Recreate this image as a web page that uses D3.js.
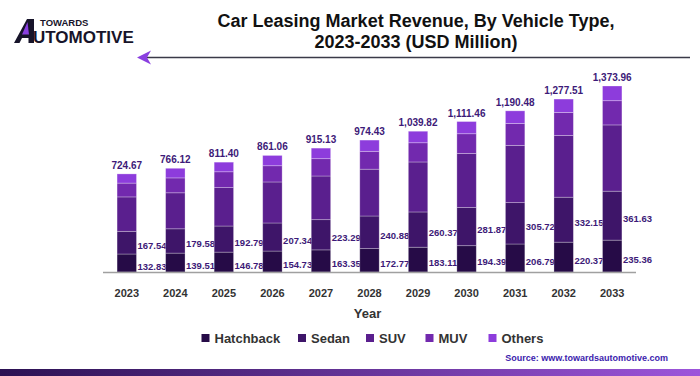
<!DOCTYPE html>
<html>
<head>
<meta charset="utf-8">
<script src="https://cdn.jsdelivr.net/npm/d3@7"></script>
<style>
  html, body { margin: 0; padding: 0; background: #fff; }
  svg { display: block; font-family: "Liberation Sans", Arial, sans-serif; }
</style>
</head>
<body>
<svg id="chart" width="700" height="376"></svg>
<script>
// chart data
var years = ["2023","2024","2025","2026","2027","2028","2029","2030","2031","2032","2033"];
var hatchback = [132.83,139.51,146.78,154.73,163.35,172.77,183.11,194.39,206.79,220.37,235.36];
var sedan = [167.54,179.58,192.79,207.34,223.29,240.88,260.37,281.87,305.72,332.15,361.63];
var suv = [254.3,266.03,283.83,302.99,322.49,345.78,369.34,399.2,422.97,455.99,489.47];
var muv = [102,110,117,120,128,132,142,146,162,170,179];
var others = [68,71,71,76,78,83,85,90,93,99,108.5];
var totals = [724.67,766.12,811.40,861.06,915.13,974.43,1039.82,1111.46,1190.48,1277.51,1373.96];
var seriesNames = ["Hatchback","Sedan","SUV","MUV","Others"];
var seriesColors = ["#260b47","#3e1569","#5a1f8e","#7229ae","#8d3cdc"];

var svg = d3.select('#chart');
var defs = svg.append('defs');

var X0 = 103, X1 = 636, BASE = 272;
var x = d3.scaleBand().domain(years).range([X0, X1]).paddingInner(0.6).paddingOuter(0.29);
var y = d3.scaleLinear().domain([0, 1400]).range([BASE, BASE - 1400*0.13537]);
var color = d3.scaleOrdinal().domain(seriesNames).range(seriesColors);

var fmt = d3.format(",.2f");

// logo
var logo = svg.append('g');
logo.append('path')
    .attr('d','M14,43 L27,19 L34,19 L34,43 L28.5,43 L28.5,38 L22,38 L19.5,43 Z')
    .attr('fill','#17142a');
logo.append('path')
    .attr('d','M27.5,22 L22,34.5 L29,34.5 Z')
    .attr('fill','#8a3fe0');
logo.append('text')
    .attr('x',40).attr('y',26)
    .attr('font-size',9.5).attr('font-weight','bold')
    .attr('fill','#17142a')
    .text('TOWARDS');
logo.append('text')
    .attr('x',33).attr('y',43)
    .attr('font-size',17).attr('font-weight','bold')
    .attr('fill','#17142a')
    .text('UTOMOTIVE');

// title
var title = svg.append('text')
    .attr('text-anchor','middle')
    .attr('font-size',18).attr('font-weight','bold')
    .attr('fill','#111');
title.append('tspan').attr('x',416).attr('y',27).text('Car Leasing Market Revenue, By Vehicle Type,');
title.append('tspan').attr('x',416).attr('y',48).text('2023-2033 (USD Million)');

// arrow line under title
svg.append('line')
    .attr('x1',146).attr('y1',57.5).attr('x2',690).attr('y2',57.5)
    .attr('stroke','#3a3a48').attr('stroke-width',1.4);
svg.append('path')
    .attr('d','M137,57.5 L151,50.5 L147,57.5 L151,64.5 Z')
    .attr('fill','#8a3fe0');

var rows = years.map(function(yr,i){
    return {year:yr, Hatchback:hatchback[i], Sedan:sedan[i], SUV:suv[i], MUV:muv[i], Others:others[i]};
});
var stacked = d3.stack().keys(seriesNames)(rows);

// value labels first: the next bar covers any overflow, like the reference
var labelColor = '#3d1a78';
[0,1].forEach(function(si){
    svg.append('g').selectAll('text')
        .data(stacked[si])
        .join('text')
        .attr('x',function(d){return x(d.data.year)+x.bandwidth()+1;})
        .attr('y',function(d){return (y(d[0])+y(d[1]))/2+3;})
        .attr('dominant-baseline','central')
        .attr('font-size',9.5).attr('font-weight','bold')
        .attr('fill',labelColor)
        .text(function(d){return fmt(d.data[seriesNames[si]]);});
});

// stacked bars
svg.append('g').selectAll('g')
    .data(stacked)
    .join('g')
    .attr('fill',function(d){return color(d.key);})
    .selectAll('rect')
    .data(function(d){return d;})
    .join('rect')
    .attr('x',function(d){return x(d.data.year);})
    .attr('y',function(d){return y(d[1]);})
    .attr('width',x.bandwidth())
    .attr('height',function(d){return y(d[0])-y(d[1]);})
    .attr('stroke','rgba(255,255,255,0.35)')
    .attr('stroke-width',0.8);

// axis line
svg.append('line')
    .attr('x1',X0).attr('x2',X1).attr('y1',BASE+0.5).attr('y2',BASE+0.5)
    .attr('stroke','#a0a0a0').attr('stroke-width',1.5);

// totals above bars
svg.append('g').selectAll('text')
    .data(years)
    .join('text')
    .attr('x',function(d){return x(d)+x.bandwidth()/2;})
    .attr('y',function(d,i){return y(totals[i])-5;})
    .attr('text-anchor','middle')
    .attr('font-size',10).attr('font-weight','bold')
    .attr('fill',labelColor)
    .text(function(d,i){return fmt(totals[i]);});

// x axis tick labels
var xAxis = d3.axisBottom(x).tickSize(0).tickPadding(0);
var gx = svg.append('g').attr('transform','translate(0,'+(BASE+17)+')').call(xAxis);
gx.select('.domain').remove();
gx.selectAll('text')
    .attr('font-family','"Liberation Sans", Arial, sans-serif')
    .attr('font-size',11).attr('font-weight','bold')
    .attr('fill','#333');

svg.append('text')
    .attr('x',(X0+X1)/2-2).attr('y',318)
    .attr('text-anchor','middle')
    .attr('font-size',13).attr('font-weight','bold')
    .attr('fill','#333')
    .text('Year');

// legend
var legendX = [201.5,298,366,425.5,488.5];
var legend = svg.append('g').selectAll('g')
    .data(seriesNames)
    .join('g')
    .attr('transform',function(d,i){return 'translate('+legendX[i]+',338)';});
legend.append('rect')
    .attr('x',0).attr('y',-4).attr('width',8).attr('height',8)
    .attr('fill',function(d){return color(d);});
legend.append('text')
    .attr('x',13).attr('y',0)
    .attr('dominant-baseline','central')
    .attr('font-size',13).attr('font-weight','bold')
    .attr('fill','#333')
    .text(function(d){return d;});

// source
svg.append('text')
    .attr('x',668).attr('y',361)
    .attr('text-anchor','end')
    .attr('font-size',9).attr('font-weight','bold')
    .attr('fill','#3b22ad')
    .text('Source: www.towardsautomotive.com');

// bottom band
var grad = defs.append('linearGradient').attr('id','band')
    .attr('x1','0%').attr('x2','100%');
grad.append('stop').attr('offset','0%').attr('stop-color','#2b1152');
grad.append('stop').attr('offset','100%').attr('stop-color','#9d55db');
svg.append('rect')
    .attr('x',0).attr('y',369).attr('width',700).attr('height',7)
    .attr('fill','url(#band)');
</script>
</body>
</html>
